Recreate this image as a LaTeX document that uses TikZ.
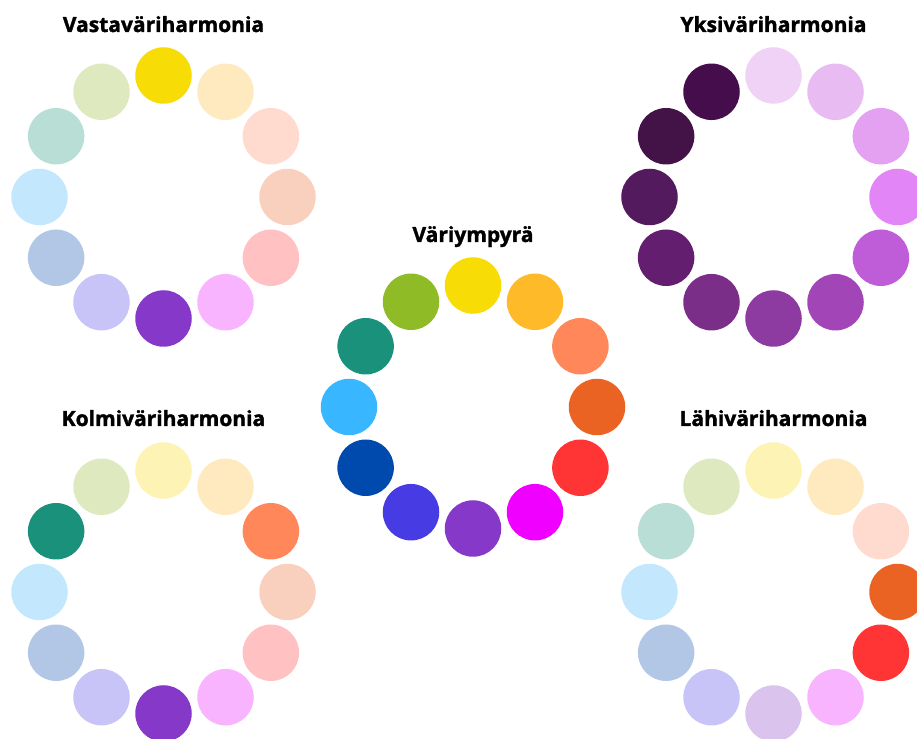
\documentclass[tikz,border=0pt]{standalone}
\usepackage{fontspec}
\setmainfont{Open Sans}[BoldFeatures={FakeBold=1.6}]
\usepackage{tikz}
\usetikzlibrary{calc,positioning}
\usepackage{xcolor}
% full hues
\definecolor{yel}{HTML}{F7DC05}
\definecolor{amb}{HTML}{FFBA2A}
\definecolor{sal}{HTML}{FF875A}
\definecolor{org}{HTML}{EA6322}
\definecolor{red}{HTML}{FF3434}
\definecolor{mag}{HTML}{F000FF}
\definecolor{pur}{HTML}{8639C9}
\definecolor{vio}{HTML}{473CE3}
\definecolor{nav}{HTML}{004AAD}
\definecolor{sky}{HTML}{38B6FF}
\definecolor{tea}{HTML}{1A917A}
\definecolor{grn}{HTML}{8FBC26}
% pastel hues
\definecolor{pyel}{HTML}{FDF3B4}
\definecolor{pamb}{HTML}{FFEAC0}
\definecolor{psal}{HTML}{FFDACF}
\definecolor{porg}{HTML}{F9D0BE}
\definecolor{pred}{HTML}{FFC1C1}
\definecolor{pmag}{HTML}{F9B4FF}
\definecolor{ppur}{HTML}{DAC4EE}
\definecolor{pvio}{HTML}{C8C4F7}
\definecolor{pnav}{HTML}{B2C7E6}
\definecolor{psky}{HTML}{C3E8FD}
\definecolor{ptea}{HTML}{B9DED6}
\definecolor{pgrn}{HTML}{DEE9C0}
% one-hue purples
\definecolor{mA}{HTML}{EFD2F5}
\definecolor{mB}{HTML}{E8BBF3}
\definecolor{mC}{HTML}{E4A0F1}
\definecolor{mD}{HTML}{E286F7}
\definecolor{mE}{HTML}{BF5CD8}
\definecolor{mF}{HTML}{A246B7}
\definecolor{mG}{HTML}{8D3AA1}
\definecolor{mH}{HTML}{7A2E88}
\definecolor{mI}{HTML}{641E70}
\definecolor{mJ}{HTML}{541A5E}
\definecolor{mK}{HTML}{431348}
\definecolor{mL}{HTML}{460D4D}
\tikzset{
  dot/.style={circle,draw=none,minimum size=56.5pt,inner sep=0pt},
  ttl/.style={anchor=base,font=\fontsize{21}{24}\selectfont\bfseries,inner sep=0pt},
}

\begin{document}
\begin{tikzpicture}[x=1pt,y=1pt]
\useasboundingbox (0,0) rectangle (917,738);
% complementary harmony
\node[ttl] (tv) at (163.5,706) {Vastaväriharmonia};
\coordinate (cv) at (163.5,541);
\foreach \c [count=\i] in {yel,pamb,psal,porg,pred,pmag,pur,pvio,pnav,psky,ptea,pgrn}
  \node[dot,fill=\c] (v\i) at ($(cv)+(120-30*\i:124 and 121.5)$) {};
% monochrome harmony
\node[ttl] (ty) at (773.5,706) {Yksiväriharmonia};
\coordinate (cy) at (773.5,541);
\foreach \c [count=\i] in {mA,mB,mC,mD,mE,mF,mG,mH,mI,mJ,mK,mL}
  \node[dot,fill=\c] (y\i) at ($(cy)+(120-30*\i:124 and 121.5)$) {};
% the colour wheel
\node[ttl] (tw) at (473,496) {Väriympyrä};
\coordinate (cw) at (473,331);
\foreach \c [count=\i] in {yel,amb,sal,org,red,mag,pur,vio,nav,sky,tea,grn}
  \node[dot,fill=\c] (w\i) at ($(cw)+(120-30*\i:124 and 121.5)$) {};
% triadic harmony
\node[ttl] (tk) at (163.5,312) {Kolmiväriharmonia};
\coordinate (ck) at (163.5,146);
\foreach \c [count=\i] in {pyel,pamb,sal,porg,pred,pmag,pur,pvio,pnav,psky,tea,pgrn}
  \node[dot,fill=\c] (k\i) at ($(ck)+(120-30*\i:124 and 121.5)$) {};
% analogous harmony
\node[ttl] (tl) at (773.5,312) {Lähiväriharmonia};
\coordinate (cl) at (773.5,146);
\foreach \c [count=\i] in {pyel,pamb,psal,org,red,pmag,ppur,pvio,pnav,psky,ptea,pgrn}
  \node[dot,fill=\c] (l\i) at ($(cl)+(120-30*\i:124 and 121.5)$) {};
\end{tikzpicture}
\end{document}
